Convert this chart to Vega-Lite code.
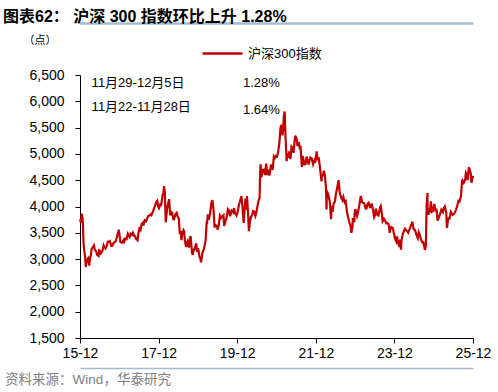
{
"$schema": "https://vega.github.io/schema/vega-lite/v6.json",
"autosize": "none",
"width": 393,
"height": 263,
"padding": {"left": 80, "top": 75, "right": 25, "bottom": 54},
"background": "white",
"config": {"view": {"stroke": null}, "font": "Liberation Sans, Noto Sans CJK SC"},
"title": {"text": "图表62：  沪深 300 指数环比上升 1.28%", "anchor": "start", "frame": "group", "dx": -77, "dy": 12, "fontSize": 16, "fontWeight": "bold", "color": "#000000", "font": "Liberation Sans, Noto Sans CJK SC", "offset": 10},
"resolve": {"axis": {"x": "independent", "y": "independent"}},
"datasets": {
"notes": [{"period": "11月29-12月5日", "chg": "1.28%"}, {"period": "11月22-11月28日", "chg": "1.64%"}],
"csi": [
{"d":"2015-12-05","v":3760},{"d":"2015-12-14","v":3690},{"d":"2015-12-22","v":3866},{"d":"2015-12-31","v":3731},
{"d":"2016-01-07","v":3285},{"d":"2016-01-14","v":3155},{"d":"2016-01-21","v":3050},{"d":"2016-01-28","v":2853},
{"d":"2016-02-04","v":2960},{"d":"2016-02-18","v":3010},{"d":"2016-02-29","v":2877},{"d":"2016-03-07","v":3020},
{"d":"2016-03-14","v":3060},{"d":"2016-03-22","v":3190},{"d":"2016-03-31","v":3218},{"d":"2016-04-12","v":3260},
{"d":"2016-04-21","v":3180},{"d":"2016-04-29","v":3156},{"d":"2016-05-06","v":3130},{"d":"2016-05-12","v":3080},
{"d":"2016-05-26","v":3060},{"d":"2016-05-31","v":3169},{"d":"2016-06-08","v":3160},{"d":"2016-06-16","v":3110},
{"d":"2016-06-30","v":3154},{"d":"2016-07-12","v":3260},{"d":"2016-07-20","v":3225},{"d":"2016-07-29","v":3203},
{"d":"2016-08-10","v":3250},{"d":"2016-08-19","v":3330},{"d":"2016-08-31","v":3327},{"d":"2016-09-08","v":3340},
{"d":"2016-09-21","v":3250},{"d":"2016-09-30","v":3253},{"d":"2016-10-14","v":3310},{"d":"2016-10-31","v":3336},
{"d":"2016-11-10","v":3400},{"d":"2016-11-22","v":3500},{"d":"2016-11-29","v":3560},{"d":"2016-12-06","v":3460},
{"d":"2016-12-15","v":3320},{"d":"2016-12-30","v":3310},{"d":"2017-01-10","v":3350},{"d":"2017-01-16","v":3300},
{"d":"2017-01-26","v":3387},{"d":"2017-02-10","v":3380},{"d":"2017-02-22","v":3480},{"d":"2017-02-28","v":3452},
{"d":"2017-03-10","v":3420},{"d":"2017-03-20","v":3480},{"d":"2017-03-31","v":3456},{"d":"2017-04-10","v":3500},
{"d":"2017-04-20","v":3450},{"d":"2017-04-28","v":3439},{"d":"2017-05-10","v":3385},{"d":"2017-05-23","v":3360},
{"d":"2017-05-31","v":3493},{"d":"2017-06-09","v":3580},{"d":"2017-06-20","v":3550},{"d":"2017-06-30","v":3666},
{"d":"2017-07-12","v":3690},{"d":"2017-07-17","v":3640},{"d":"2017-07-28","v":3737},{"d":"2017-08-10","v":3720},
{"d":"2017-08-21","v":3780},{"d":"2017-08-31","v":3822},{"d":"2017-09-12","v":3830},{"d":"2017-09-21","v":3850},
{"d":"2017-09-29","v":3836},{"d":"2017-10-16","v":3920},{"d":"2017-10-31","v":4006},{"d":"2017-11-13","v":4090},
{"d":"2017-11-22","v":4110},{"d":"2017-11-30","v":4006},{"d":"2017-12-08","v":3970},{"d":"2017-12-20","v":4040},
{"d":"2017-12-29","v":4031},{"d":"2018-01-10","v":4210},{"d":"2018-01-19","v":4260},{"d":"2018-01-24","v":4389},
{"d":"2018-01-31","v":4275},{"d":"2018-02-09","v":3700},{"d":"2018-02-22","v":3960},{"d":"2018-02-28","v":4023},
{"d":"2018-03-12","v":4140},{"d":"2018-03-23","v":3830},{"d":"2018-03-30","v":3899},{"d":"2018-04-10","v":3880},
{"d":"2018-04-20","v":3760},{"d":"2018-04-27","v":3756},{"d":"2018-05-10","v":3850},{"d":"2018-05-22","v":3880},
{"d":"2018-05-31","v":3802},{"d":"2018-06-11","v":3770},{"d":"2018-06-19","v":3500},{"d":"2018-06-29","v":3510},
{"d":"2018-07-05","v":3360},{"d":"2018-07-13","v":3490},{"d":"2018-07-24","v":3550},{"d":"2018-07-31","v":3517},
{"d":"2018-08-06","v":3350},{"d":"2018-08-17","v":3230},{"d":"2018-08-24","v":3300},{"d":"2018-08-31","v":3335},
{"d":"2018-09-13","v":3220},{"d":"2018-09-21","v":3390},{"d":"2018-09-28","v":3438},{"d":"2018-10-11","v":3120},
{"d":"2018-10-18","v":3080},{"d":"2018-10-25","v":3200},{"d":"2018-10-31","v":3153},{"d":"2018-11-07","v":3210},
{"d":"2018-11-19","v":3300},{"d":"2018-11-29","v":3140},{"d":"2018-12-07","v":3210},{"d":"2018-12-19","v":3050},
{"d":"2018-12-28","v":3011},{"d":"2019-01-03","v":2940},{"d":"2019-01-15","v":3110},{"d":"2019-01-31","v":3201},
{"d":"2019-02-15","v":3360},{"d":"2019-02-25","v":3720},{"d":"2019-02-28","v":3670},{"d":"2019-03-07","v":3850},
{"d":"2019-03-15","v":3750},{"d":"2019-03-29","v":3872},{"d":"2019-04-08","v":4060},{"d":"2019-04-19","v":4120},
{"d":"2019-04-30","v":3913},{"d":"2019-05-09","v":3600},{"d":"2019-05-17","v":3650},{"d":"2019-05-31","v":3629},
{"d":"2019-06-06","v":3560},{"d":"2019-06-14","v":3620},{"d":"2019-06-28","v":3826},{"d":"2019-07-09","v":3780},
{"d":"2019-07-19","v":3810},{"d":"2019-07-31","v":3835},{"d":"2019-08-06","v":3630},{"d":"2019-08-16","v":3700},
{"d":"2019-08-30","v":3799},{"d":"2019-09-10","v":3950},{"d":"2019-09-20","v":3930},{"d":"2019-09-30","v":3814},
{"d":"2019-10-15","v":3920},{"d":"2019-10-31","v":3886},{"d":"2019-11-05","v":3970},{"d":"2019-11-15","v":3880},
{"d":"2019-11-29","v":3828},{"d":"2019-12-10","v":3900},{"d":"2019-12-20","v":4020},{"d":"2019-12-31","v":4097},
{"d":"2020-01-14","v":4200},{"d":"2020-01-23","v":4003},{"d":"2020-02-03","v":3689},{"d":"2020-02-14","v":3990},
{"d":"2020-02-21","v":4150},{"d":"2020-02-28","v":3940},{"d":"2020-03-05","v":4200},{"d":"2020-03-13","v":3950},
{"d":"2020-03-23","v":3530},{"d":"2020-03-31","v":3686},{"d":"2020-04-10","v":3800},{"d":"2020-04-21","v":3830},
{"d":"2020-04-30","v":3912},{"d":"2020-05-12","v":3900},{"d":"2020-05-22","v":3820},{"d":"2020-05-29","v":3867},
{"d":"2020-06-09","v":3990},{"d":"2020-06-19","v":4100},{"d":"2020-06-30","v":4164},{"d":"2020-07-06","v":4670},
{"d":"2020-07-10","v":4800},{"d":"2020-07-16","v":4550},{"d":"2020-07-31","v":4695},{"d":"2020-08-10","v":4700},
{"d":"2020-08-20","v":4600},{"d":"2020-08-31","v":4816},{"d":"2020-09-09","v":4600},{"d":"2020-09-18","v":4700},
{"d":"2020-09-30","v":4587},{"d":"2020-10-15","v":4800},{"d":"2020-10-30","v":4695},{"d":"2020-11-10","v":4950},
{"d":"2020-11-20","v":4920},{"d":"2020-11-30","v":4960},{"d":"2020-12-10","v":4950},{"d":"2020-12-21","v":5050},
{"d":"2020-12-31","v":5211},{"d":"2021-01-11","v":5500},{"d":"2021-01-20","v":5550},{"d":"2021-01-29","v":5351},
{"d":"2021-02-05","v":5480},{"d":"2021-02-10","v":5700},{"d":"2021-02-18","v":5807},{"d":"2021-02-26","v":5336},
{"d":"2021-03-09","v":4860},{"d":"2021-03-15","v":5000},{"d":"2021-03-25","v":4930},{"d":"2021-03-31","v":5048},
{"d":"2021-04-13","v":4900},{"d":"2021-04-23","v":5140},{"d":"2021-04-30","v":5123},{"d":"2021-05-12","v":5020},
{"d":"2021-05-25","v":5320},{"d":"2021-05-31","v":5331},{"d":"2021-06-10","v":5290},{"d":"2021-06-17","v":5150},
{"d":"2021-06-30","v":5224},{"d":"2021-07-08","v":5120},{"d":"2021-07-16","v":5130},{"d":"2021-07-28","v":4750},
{"d":"2021-08-06","v":4960},{"d":"2021-08-20","v":4800},{"d":"2021-08-31","v":4806},{"d":"2021-09-10","v":4950},
{"d":"2021-09-29","v":4800},{"d":"2021-10-15","v":4930},{"d":"2021-10-29","v":4908},{"d":"2021-11-10","v":4800},
{"d":"2021-11-24","v":4880},{"d":"2021-11-30","v":4833},{"d":"2021-12-13","v":5050},{"d":"2021-12-20","v":4880},
{"d":"2021-12-31","v":4940},{"d":"2022-01-12","v":4750},{"d":"2022-01-27","v":4480},{"d":"2022-01-30","v":4563},
{"d":"2022-02-10","v":4600},{"d":"2022-02-18","v":4680},{"d":"2022-02-28","v":4581},{"d":"2022-03-09","v":4360},
{"d":"2022-03-15","v":3942},{"d":"2022-03-17","v":4300},{"d":"2022-03-31","v":4222},{"d":"2022-04-13","v":4100},
{"d":"2022-04-26","v":3757},{"d":"2022-04-29","v":4016},{"d":"2022-05-10","v":3900},{"d":"2022-05-20","v":4060},
{"d":"2022-05-31","v":4091},{"d":"2022-06-10","v":4240},{"d":"2022-06-24","v":4380},{"d":"2022-07-05","v":4500},
{"d":"2022-07-15","v":4260},{"d":"2022-07-29","v":4170},{"d":"2022-08-10","v":4120},{"d":"2022-08-18","v":4180},
{"d":"2022-08-31","v":4079},{"d":"2022-09-09","v":4100},{"d":"2022-09-20","v":3900},{"d":"2022-09-30","v":3804},
{"d":"2022-10-11","v":3710},{"d":"2022-10-24","v":3630},{"d":"2022-10-31","v":3500},{"d":"2022-11-10","v":3600},
{"d":"2022-11-14","v":3780},{"d":"2022-11-28","v":3700},{"d":"2022-11-30","v":3853},{"d":"2022-12-07","v":3950},
{"d":"2022-12-23","v":3820},{"d":"2022-12-30","v":3872},{"d":"2023-01-13","v":4020},{"d":"2023-01-27","v":4200},
{"d":"2023-02-08","v":4080},{"d":"2023-02-17","v":4070},{"d":"2023-02-28","v":4060},{"d":"2023-03-10","v":3970},
{"d":"2023-03-20","v":3960},{"d":"2023-03-31","v":4050},{"d":"2023-04-10","v":4070},{"d":"2023-04-25","v":3970},
{"d":"2023-04-28","v":4029},{"d":"2023-05-09","v":4040},{"d":"2023-05-19","v":3960},{"d":"2023-05-31","v":3798},
{"d":"2023-06-09","v":3840},{"d":"2023-06-16","v":3960},{"d":"2023-06-30","v":3842},{"d":"2023-07-10","v":3830},
{"d":"2023-07-25","v":3980},{"d":"2023-07-31","v":4008},{"d":"2023-08-10","v":3880},{"d":"2023-08-18","v":3720},
{"d":"2023-08-31","v":3765},{"d":"2023-09-08","v":3740},{"d":"2023-09-21","v":3680},{"d":"2023-09-28","v":3690},
{"d":"2023-10-12","v":3670},{"d":"2023-10-23","v":3500},{"d":"2023-10-31","v":3573},{"d":"2023-11-07","v":3610},
{"d":"2023-11-21","v":3590},{"d":"2023-11-30","v":3496},{"d":"2023-12-12","v":3390},{"d":"2023-12-22","v":3340},
{"d":"2023-12-29","v":3431},{"d":"2024-01-10","v":3300},{"d":"2024-01-22","v":3230},{"d":"2024-01-26","v":3370},
{"d":"2024-02-05","v":3180},{"d":"2024-02-08","v":3340},{"d":"2024-02-23","v":3490},{"d":"2024-02-29","v":3516},
{"d":"2024-03-13","v":3580},{"d":"2024-03-29","v":3537},{"d":"2024-04-12","v":3500},{"d":"2024-04-26","v":3580},
{"d":"2024-05-15","v":3680},{"d":"2024-05-20","v":3710},{"d":"2024-05-31","v":3579},{"d":"2024-06-14","v":3550},
{"d":"2024-06-28","v":3462},{"d":"2024-07-10","v":3400},{"d":"2024-07-19","v":3510},{"d":"2024-07-31","v":3442},
{"d":"2024-08-09","v":3370},{"d":"2024-08-20","v":3320},{"d":"2024-08-30","v":3321},{"d":"2024-09-09","v":3230},
{"d":"2024-09-13","v":3174},{"d":"2024-09-23","v":3250},{"d":"2024-09-27","v":3700},{"d":"2024-09-30","v":4017},
{"d":"2024-10-08","v":4256},{"d":"2024-10-09","v":3955},{"d":"2024-10-17","v":3840},{"d":"2024-10-25","v":3960},
{"d":"2024-10-31","v":3891},{"d":"2024-11-08","v":4100},{"d":"2024-11-18","v":3900},{"d":"2024-11-29","v":3916},
{"d":"2024-12-10","v":4050},{"d":"2024-12-20","v":3930},{"d":"2024-12-31","v":3935},{"d":"2025-01-10","v":3730},
{"d":"2025-01-27","v":3820},{"d":"2025-02-14","v":3940},{"d":"2025-02-28","v":3890},{"d":"2025-03-07","v":3960},
{"d":"2025-03-18","v":4000},{"d":"2025-03-31","v":3887},{"d":"2025-04-07","v":3590},{"d":"2025-04-18","v":3770},
{"d":"2025-04-30","v":3770},{"d":"2025-05-14","v":3900},{"d":"2025-05-30","v":3840},{"d":"2025-06-13","v":3860},
{"d":"2025-06-30","v":3936},{"d":"2025-07-11","v":4010},{"d":"2025-07-25","v":4130},{"d":"2025-07-31","v":4075},
{"d":"2025-08-15","v":4200},{"d":"2025-08-25","v":4470},{"d":"2025-08-29","v":4497},{"d":"2025-09-10","v":4450},
{"d":"2025-09-22","v":4500},{"d":"2025-09-30","v":4640},{"d":"2025-10-10","v":4600},{"d":"2025-10-16","v":4500},
{"d":"2025-10-28","v":4750},{"d":"2025-10-31","v":4640},{"d":"2025-11-07","v":4680},{"d":"2025-11-14","v":4630},
{"d":"2025-11-21","v":4450},{"d":"2025-11-28","v":4526},{"d":"2025-12-05","v":4585}
]
},
"layer": [
{
"data": {"name": "csi"},
"mark": {"type": "line", "strokeWidth": 2.2},
"encoding": {
"x": {"field": "d", "type": "temporal",
"scale": {"type": "utc", "domain": [{"year": 2015, "month": 12, "date": 5, "utc": true}, {"year": 2025, "month": 12, "date": 5, "utc": true}]},
"axis": {"title": null, "values": [{"year": 2015, "month": 12, "date": 5, "utc": true}, {"year": 2017, "month": 12, "date": 5, "utc": true}, {"year": 2019, "month": 12, "date": 5, "utc": true}, {"year": 2021, "month": 12, "date": 5, "utc": true}, {"year": 2023, "month": 12, "date": 5, "utc": true}, {"year": 2025, "month": 12, "date": 5, "utc": true}],
"format": "%y-%m", "labelFontSize": 14, "labelColor": "#000000", "labelFont": "Liberation Sans", "tickSize": 5, "tickColor": "#000000", "domainColor": "#000000", "labelPadding": 3, "grid": false, "labelFlush": false, "labelOverlap": false}},
"y": {"field": "v", "type": "quantitative",
"scale": {"domain": [1500, 6500], "nice": false, "zero": false},
"axis": {"title": "（点）", "titleAngle": 0, "titleAlign": "left", "titleBaseline": "middle", "titleX": -57, "titleY": -35, "titleFontSize": 11, "titleFontWeight": "normal", "titleColor": "#000000",
"values": [1500, 2000, 2500, 3000, 3500, 4000, 4500, 5000, 5500, 6000, 6500], "format": ",.0f", "labelFontSize": 14, "labelColor": "#000000", "labelFont": "Liberation Sans", "tickSize": 5, "tickColor": "#000000", "domainColor": "#000000", "labelPadding": 11, "grid": false}},
"color": {"datum": "沪深300指数", "scale": {"range": ["#C00000"]},
"legend": {"title": null, "orient": "none", "legendX": 121, "legendY": -43, "symbolType": "stroke", "symbolSize": 1600, "symbolStrokeWidth": 2.5, "labelFontSize": 13, "labelColor": "#000000", "labelOffset": 4, "padding": 0}}
}
},
{
"data": {"name": "csi"},
"mark": {"type": "text", "text": ""},
"encoding": {"x": {"field": "d", "type": "temporal", "scale": {"type": "utc", "domain": [{"year": 2015, "month": 12, "date": 5, "utc": true}, {"year": 2025, "month": 12, "date": 5, "utc": true}]}, "axis": {"orient": "top", "offset": 52, "title": null, "labels": false, "ticks": false, "grid": false, "domain": true, "domainColor": "#A6B9D3", "domainWidth": 2}}}
},
{
"data": {"name": "notes"},
"transform": [{"filter": {"field": "chg", "equal": "1.28%"}}],
"mark": {"type": "text", "align": "left", "baseline": "middle", "fontSize": 13, "color": "#000000"},
"encoding": {"x": {"datum": {"year": 2016, "month": 3, "date": 22, "utc": true}, "type": "temporal", "axis": null, "scale": {"type": "utc", "domain": [{"year": 2015, "month": 12, "date": 5, "utc": true}, {"year": 2025, "month": 12, "date": 5, "utc": true}]}}, "y": {"datum": 6357, "type": "quantitative", "axis": null, "scale": {"domain": [1500, 6500], "nice": false, "zero": false}}, "text": {"field": "period"}}
},
{
"data": {"name": "notes"},
"transform": [{"filter": {"field": "chg", "equal": "1.28%"}}],
"mark": {"type": "text", "align": "left", "baseline": "middle", "fontSize": 13, "color": "#000000"},
"encoding": {"x": {"datum": {"year": 2020, "month": 1, "date": 28, "utc": true}, "type": "temporal", "axis": null, "scale": {"type": "utc", "domain": [{"year": 2015, "month": 12, "date": 5, "utc": true}, {"year": 2025, "month": 12, "date": 5, "utc": true}]}}, "y": {"datum": 6340, "type": "quantitative", "axis": null, "scale": {"domain": [1500, 6500], "nice": false, "zero": false}}, "text": {"field": "chg"}}
},
{
"data": {"name": "notes"},
"transform": [{"filter": {"field": "chg", "equal": "1.64%"}}],
"mark": {"type": "text", "align": "left", "baseline": "middle", "fontSize": 13, "color": "#000000"},
"encoding": {"x": {"datum": {"year": 2016, "month": 3, "date": 22, "utc": true}, "type": "temporal", "axis": null, "scale": {"type": "utc", "domain": [{"year": 2015, "month": 12, "date": 5, "utc": true}, {"year": 2025, "month": 12, "date": 5, "utc": true}]}}, "y": {"datum": 5892, "type": "quantitative", "axis": null, "scale": {"domain": [1500, 6500], "nice": false, "zero": false}}, "text": {"field": "period"}}
},
{
"data": {"name": "notes"},
"transform": [{"filter": {"field": "chg", "equal": "1.64%"}}],
"mark": {"type": "text", "align": "left", "baseline": "middle", "fontSize": 13, "color": "#000000"},
"encoding": {"x": {"datum": {"year": 2020, "month": 1, "date": 28, "utc": true}, "type": "temporal", "axis": null, "scale": {"type": "utc", "domain": [{"year": 2015, "month": 12, "date": 5, "utc": true}, {"year": 2025, "month": 12, "date": 5, "utc": true}]}}, "y": {"datum": 5835, "type": "quantitative", "axis": null, "scale": {"domain": [1500, 6500], "nice": false, "zero": false}}, "text": {"field": "chg"}}
},
{
"data": {"name": "notes"},
"transform": [{"filter": {"field": "chg", "equal": "1.64%"}}],
"mark": {"type": "rule", "color": "#A6B9D3", "strokeWidth": 2},
"encoding": {"y": {"datum": 7479, "type": "quantitative", "axis": null, "scale": {"domain": [1500, 6500], "nice": false, "zero": false}}}
},
{
"data": {"name": "csi"},
"mark": {"type": "text", "text": ""},
"encoding": {"x": {"field": "d", "type": "temporal", "scale": {"type": "utc", "domain": [{"year": 2015, "month": 12, "date": 5, "utc": true}, {"year": 2025, "month": 12, "date": 5, "utc": true}]}, "axis": {"orient": "bottom", "offset": 30, "title": null, "labels": false, "ticks": false, "grid": false, "domainColor": "#A6B9D3", "domainWidth": 1.5}}}
},
{
"data": {"values": [{"src": "资料来源：Wind，华泰研究"}]},
"mark": {"type": "text", "align": "left", "baseline": "middle", "fontSize": 13.5, "color": "#808080"},
"encoding": {"x": {"datum": {"year": 2014, "month": 1, "date": 8, "utc": true}, "type": "temporal", "axis": null, "scale": {"type": "utc", "domain": [{"year": 2015, "month": 12, "date": 5, "utc": true}, {"year": 2025, "month": 12, "date": 5, "utc": true}]}}, "y": {"datum": 702, "type": "quantitative", "axis": null, "scale": {"domain": [1500, 6500], "nice": false, "zero": false}}, "text": {"field": "src"}}
}
]
}
